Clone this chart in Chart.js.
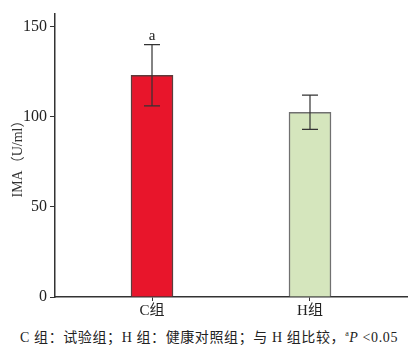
<!DOCTYPE html>
<html><head><meta charset="utf-8">
<script src="https://cdn.jsdelivr.net/npm/chart.js@4/dist/chart.umd.min.js"></script>
<style>
html,body{margin:0;padding:0;background:#fff;}
#wrap{position:relative;width:418px;height:322px;}
#cap{position:absolute;left:0;top:326px;width:418px;text-align:center;font-family:"Liberation Serif","Noto Sans CJK SC",serif;font-size:14px;letter-spacing:0.6px;color:#222;white-space:nowrap;}
#cap sup{font-size:8px;}
</style></head><body>
<div id="wrap"><canvas id="c" width="418" height="322"></canvas></div>
<div id="cap">C 组：试验组；H 组：健康对照组；与 H 组比较，<sup>a</sup><i>P</i> &lt;0.05</div>
<script>
const categories = ['C组', 'H组'];
const means = [123, 102.5];
const errors = [17, 9.5];
const sigMarks = ['a', ''];
const yTicks = [0, 50, 100, 150];
const fills = ['#e8152b', '#d5e6bd'];
const borders = ['#5e3b3b', '#707070'];

const FONT = '"Liberation Serif","Noto Sans CJK SC",serif';

const errPlugin = {
  id: 'err',
  afterDatasetsDraw(chart) {
    const ctx = chart.ctx, xs = chart.scales.x, ys = chart.scales.y;
    ctx.save();
    ctx.strokeStyle = '#333';
    ctx.lineWidth = 1.2;
    means.forEach((m, i) => {
      const x = xs.getPixelForValue(i);
      const yt = ys.getPixelForValue(m + errors[i]);
      const yb = ys.getPixelForValue(m - errors[i]);
      ctx.beginPath();
      ctx.moveTo(x, yt); ctx.lineTo(x, yb);
      ctx.moveTo(x - 8, yt); ctx.lineTo(x + 8, yt);
      ctx.moveTo(x - 8, yb); ctx.lineTo(x + 8, yb);
      ctx.stroke();
      if (sigMarks[i]) {
        ctx.fillStyle = '#222';
        ctx.font = '15px ' + FONT;
        ctx.textAlign = 'center';
        ctx.textBaseline = 'bottom';
        ctx.fillText(sigMarks[i], x, yt - 1);
      }
    });
    ctx.restore();
  }
};

new Chart(document.getElementById('c'), {
  type: 'bar',
  data: {
    datasets: [{
      data: means.map((v, i) => ({x: i, y: v})),
      backgroundColor: fills,
      borderColor: borders,
      borderWidth: 1.5,
      barThickness: 42
    }]
  },
  options: {
    responsive: false,
    animation: false,
    layout: {padding: {top: 14, right: 11, left: 10, bottom: 0}},
    plugins: {legend: {display: false}, tooltip: {enabled: false}},
    scales: {
      x: {
        type: 'linear',
        offset: false,
        min: -0.614, max: 1.614,
        afterBuildTicks: s => { s.ticks = categories.map((c, i) => ({value: i})); },
        afterFit: s => { s.height = 25; },
        grid: {display: true, offset: false, drawOnChartArea: false, drawTicks: true, tickLength: 4, color: '#333'},
        border: {color: '#333', width: 1.5},
        ticks: {
          callback: v => categories[v] ?? '',
          color: '#222', font: {family: FONT, size: 15}, padding: 1, maxRotation: 0
        }
      },
      y: {
        min: 0, max: 157,
        afterBuildTicks: s => { s.ticks = yTicks.map(v => ({value: v})); },
        afterFit: s => { s.width = 45; },
        grid: {display: true, drawOnChartArea: false, drawTicks: true, tickLength: 5, color: '#333'},
        border: {color: '#333', width: 1.5},
        ticks: {color: '#222', font: {family: FONT, size: 16}, padding: 3},
        title: {display: true, text: 'IMA（U/ml）', color: '#333', font: {family: FONT, size: 14}, padding: {top: 0, bottom: 2}}
      }
    }
  },
  plugins: [errPlugin]
});
</script>
</body></html>
